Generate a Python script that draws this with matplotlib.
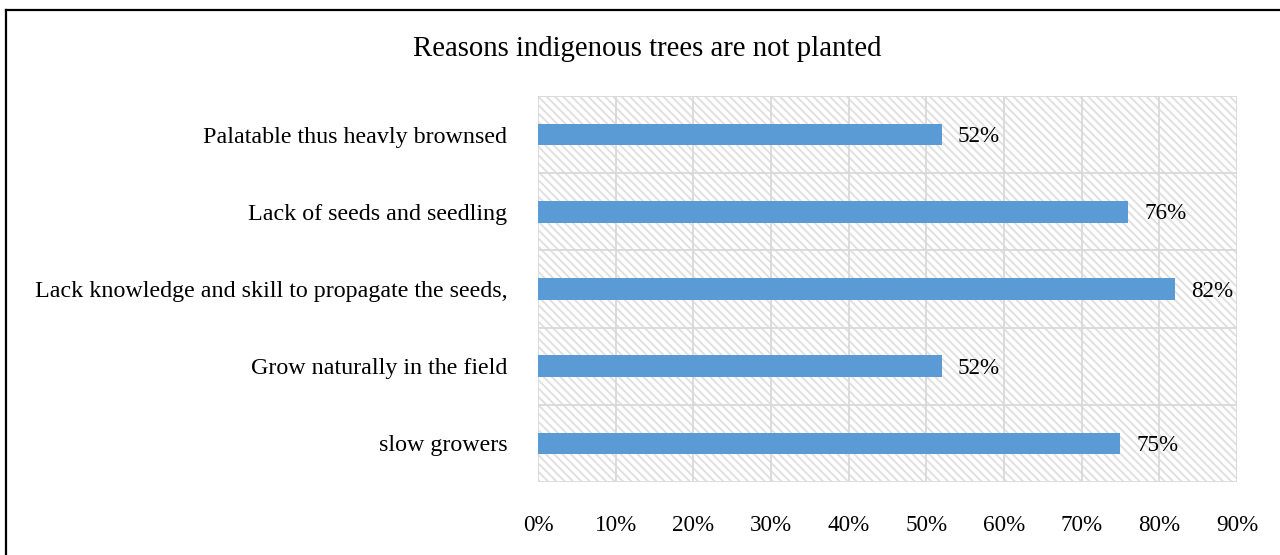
import matplotlib
matplotlib.use("Agg")
import matplotlib.pyplot as plt
from matplotlib.patches import Rectangle
from matplotlib.lines import Line2D
from matplotlib.ticker import MultipleLocator, FuncFormatter

plt.rcParams['font.family'] = ['Liberation Serif', 'DejaVu Serif']
plt.rcParams['hatch.linewidth'] = 1.4

title = "Reasons indigenous trees are not planted"
categories = [
    "Palatable thus heavly brownsed",
    "Lack of seeds and seedling",
    "Lack knowledge and skill to propagate the seeds,",
    "Grow naturally in the field",
    "slow growers",
]
values = [52, 76, 82, 52, 75]

bar_color = "#5b9bd5"
grid_color = "#d9d9d9"

fig = plt.figure(figsize=(12.8, 5.55), dpi=100)
ax = fig.add_axes([0.4203, 0.1315, 0.5461, 0.6955])

ypos = list(range(len(categories)))
ax.barh(ypos, values, height=0.28, color=bar_color, zorder=3)

ax.set_xlim(0, 90)
ax.set_ylim(len(categories) - 0.5, -0.5)

# hatched plot background
ax.add_patch(Rectangle((0, 0), 1, 1, transform=ax.transAxes, facecolor="white",
                       edgecolor="#e0e0e0", hatch="\\\\\\\\", linewidth=0, zorder=0))

# grid: vertical at each tick, horizontal between categories
for x in range(0, 91, 10):
    ax.axvline(x, color=grid_color, lw=1.3, zorder=1)
for k in range(len(categories) + 1):
    ax.axhline(k - 0.5, color=grid_color, lw=1.3, zorder=1)

for s in ax.spines.values():
    s.set_visible(False)

ax.xaxis.set_major_locator(MultipleLocator(10))
ax.xaxis.set_major_formatter(FuncFormatter(lambda v, p: f"{int(round(v))}%"))
ax.set_yticks(ypos)
ax.set_yticklabels(categories)
ax.tick_params(axis="x", length=0, pad=24, labelsize=16.7)
ax.tick_params(axis="y", length=0, pad=22, labelsize=17.3)

for y, v in zip(ypos, values):
    ax.annotate(f"{v}%", xy=(v, y), xytext=(16, -2), textcoords="offset pixels",
                ha="left", va="center", fontsize=16.7, zorder=4)

fig.text(0.506, 0.911, title, ha="center", va="center", fontsize=20.7)

# outer frame lines (top and left)
fig.add_artist(Line2D([6 / 1280, 1.0], [1 - 10 / 555, 1 - 10 / 555],
                      transform=fig.transFigure, color="black", lw=1.6))
fig.add_artist(Line2D([6 / 1280, 6 / 1280], [0.0, 1 - 10 / 555],
                      transform=fig.transFigure, color="black", lw=1.6))

fig.savefig("out.png", dpi=100)
